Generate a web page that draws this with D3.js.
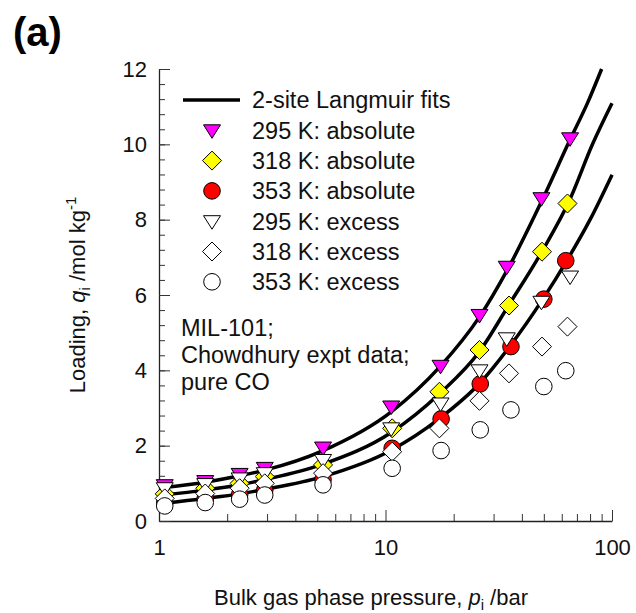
<!DOCTYPE html>
<html>
<head>
<meta charset="utf-8">
<script src="https://cdn.jsdelivr.net/npm/d3@7"></script>
<style>
  body { margin: 0; background: #fff; }
  svg { font-family: "Liberation Sans", Arial, sans-serif; }
</style>
</head>
<body>
<div class="chart"></div>
<script>
// pressures (bar) of the measured points
var p295 = [1.06, 1.6, 2.27, 2.93, 5.3, 10.6, 17.5, 26.0, 34.3, 48.8, 65.3];
var p318 = [1.06, 1.6, 2.27, 2.93, 5.3, 10.7, 17.3, 26.0, 35.1, 49.1, 63.6];
var p353 = [1.06, 1.6, 2.27, 2.93, 5.3, 10.7, 17.6, 26.2, 35.8, 50.0, 62.5];

// loadings (mol/kg)
var abs295 = [0.95, 1.06, 1.25, 1.41, 1.95, 3.04, 4.12, 5.47, 6.75, 8.57, 10.16];
var abs318 = [0.72, 0.87, 1.0, 1.18, 1.49, 2.46, 3.43, 4.54, 5.72, 7.15, 8.43];
var abs353 = [0.48, 0.6, 0.7, 0.82, 1.1, 1.93, 2.71, 3.64, 4.63, 5.89, 6.91];
var exc295 = [0.87, 0.98, 1.13, 1.27, 1.62, 2.46, 3.12, 4.0, 4.85, 5.82, 6.49];
var exc318 = [0.6, 0.73, 0.87, 1.0, 1.27, 1.84, 2.46, 3.19, 3.92, 4.63, 5.16];
var exc353 = [0.4, 0.49, 0.58, 0.69, 0.96, 1.4, 1.87, 2.42, 2.95, 3.57, 3.99];

// 2-site Langmuir fit curves
var fitP295 = [1.03, 1.6, 2.27, 2.93, 5.3, 10.6, 17.4, 26, 34.6, 49, 65, 78, 90];
var fit295 = [0.88, 1.03, 1.2, 1.35, 1.87, 2.9, 4.1, 5.42, 6.68, 8.5, 10.1, 11.1, 12.0];
var fitP318 = [1.03, 1.6, 2.27, 2.93, 5.3, 10.6, 17.4, 26, 35, 49, 65, 82, 100];
var fit318 = [0.69, 0.82, 0.96, 1.1, 1.51, 2.35, 3.39, 4.5, 5.73, 7.15, 8.52, 10.0, 11.09];
var fitP353 = [1.03, 1.6, 2.27, 2.93, 5.3, 10.6, 17.4, 26, 35, 50, 63, 80, 100];
var fit353 = [0.47, 0.6, 0.72, 0.84, 1.18, 1.88, 2.73, 3.65, 4.6, 5.93, 6.9, 8.0, 9.19];

var legendLabels = ["2-site Langmuir fits", "295 K: absolute", "318 K: absolute", "353 K: absolute",
                    "295 K: excess", "318 K: excess", "353 K: excess"];
var noteLines = ["MIL-101;", "Chowdhury expt data;", "pure CO"];
var yTicks = [0, 2, 4, 6, 8, 10, 12];
var xTicks = [1, 10, 100];

var width = 636, height = 613;
var margin = {top: 69, right: 24, bottom: 92, left: 159};

var svg = d3.select(".chart").append("svg")
    .attr("width", width)
    .attr("height", height);

var xScale = d3.scaleLog().domain([1, 100]).range([margin.left, width - margin.right]);
var yScale = d3.scaleLinear().domain([0, 12]).range([height - margin.bottom, margin.top]);

// minor ticks
var xMinor = [];
[1, 10].forEach(function(dec) {
    for (var k = 2; k <= 9; k++) xMinor.push(k * dec);
});
var yMinor = d3.range(0, 12.01, 0.4);

svg.append("g")
    .attr("transform", "translate(0," + yScale(0) + ")")
    .call(d3.axisBottom(xScale).tickValues(xMinor).tickSize(-7).tickSizeOuter(0).tickFormat(""))
    .call(function(g) { g.select(".domain").remove(); });
svg.append("g")
    .attr("transform", "translate(" + xScale(1) + ",0)")
    .call(d3.axisLeft(yScale).tickValues(yMinor).tickSize(-6).tickSizeOuter(0).tickFormat(""))
    .call(function(g) { g.select(".domain").remove(); });

// major axes
var xAxisG = svg.append("g")
    .attr("transform", "translate(0," + yScale(0) + ")")
    .call(d3.axisBottom(xScale).tickValues(xTicks).tickSize(-11).tickSizeOuter(0)
        .tickPadding(18).tickFormat(d3.format("d")));
var yAxisG = svg.append("g")
    .attr("transform", "translate(" + xScale(1) + ",0)")
    .call(d3.axisLeft(yScale).tickValues(yTicks).tickSize(-11).tickSizeOuter(0).tickPadding(12));

svg.selectAll(".tick line").attr("stroke", "#333").attr("stroke-width", 1);
svg.selectAll(".domain").attr("stroke", "#222").attr("stroke-width", 1.3);
svg.selectAll(".tick text")
    .attr("font-family", "'Liberation Sans', Arial, sans-serif")
    .attr("font-size", 22)
    .attr("fill", "#111");

// fit curves
var line = d3.line()
    .x(function(d) { return xScale(d[0]); })
    .y(function(d) { return yScale(d[1]); })
    .curve(d3.curveMonotoneX);

[[fitP295, fit295], [fitP318, fit318], [fitP353, fit353]].forEach(function(f) {
    svg.append("path")
        .datum(d3.zip(f[0], f[1]))
        .attr("d", line)
        .attr("fill", "none")
        .attr("stroke", "#000")
        .attr("stroke-width", 3.5);
});

// marker shapes
var triDown = "M-8.5,-5.5L8.5,-5.5L0,8Z";
var diamond = "M0,-9.5L9.5,0L0,9.5L-9.5,0Z";

function drawSeries(pres, vals, shape, fill) {
    var pts = d3.zip(pres, vals);
    if (shape == "circle") {
        svg.append("g").selectAll("circle")
            .data(pts).enter().append("circle")
            .attr("cx", function(d) { return xScale(d[0]); })
            .attr("cy", function(d) { return yScale(d[1]); })
            .attr("r", 8.3)
            .attr("fill", fill)
            .attr("stroke", "#000")
            .attr("stroke-width", 1);
    } else {
        svg.append("g").selectAll("path")
            .data(pts).enter().append("path")
            .attr("d", shape)
            .attr("transform", function(d) {
                return "translate(" + xScale(d[0]) + "," + yScale(d[1]) + ")";
            })
            .attr("fill", fill)
            .attr("stroke", "#000")
            .attr("stroke-width", 1);
    }
}

drawSeries(p295, abs295, triDown, "#ff00ff");
drawSeries(p318, abs318, diamond, "#ffff00");
drawSeries(p353, abs353, "circle", "#ff0000");
drawSeries(p295, exc295, triDown, "#fff");
drawSeries(p318, exc318, diamond, "#fff");
drawSeries(p353, exc353, "circle", "#fff");

// legend
var legend = svg.append("g");
var rowY = function(i) { return 100 + i * 30.3; };
legend.append("line")
    .attr("x1", 183).attr("x2", 240)
    .attr("y1", rowY(0)).attr("y2", rowY(0))
    .attr("stroke", "#000").attr("stroke-width", 3.5);
var legendMarks = [
    {shape: triDown, fill: "#ff00ff"},
    {shape: diamond, fill: "#ffff00"},
    {shape: "circle", fill: "#ff0000"},
    {shape: triDown, fill: "#fff"},
    {shape: diamond, fill: "#fff"},
    {shape: "circle", fill: "#fff"}
];
legendMarks.forEach(function(m, i) {
    var y = rowY(i + 1);
    if (m.shape == "circle") {
        legend.append("circle").attr("cx", 212).attr("cy", y).attr("r", 8.3)
            .attr("fill", m.fill).attr("stroke", "#000");
    } else {
        legend.append("path").attr("d", m.shape)
            .attr("transform", "translate(212," + y + ")")
            .attr("fill", m.fill).attr("stroke", "#000");
    }
});
legend.selectAll("text")
    .data(legendLabels).enter().append("text")
    .attr("x", 252)
    .attr("y", function(d, i) { return rowY(i); })
    .attr("dy", "0.36em")
    .attr("font-size", 23.5)
    .attr("fill", "#111")
    .text(function(d) { return d; });

// note
svg.append("g").selectAll("text")
    .data(noteLines).enter().append("text")
    .attr("x", 181)
    .attr("y", function(d, i) { return 328 + i * 27; })
    .attr("dy", "0.36em")
    .attr("font-size", 23.5)
    .attr("fill", "#111")
    .text(function(d) { return d; });

// x axis title
var xt = svg.append("text")
    .attr("x", 371)
    .attr("y", 605)
    .attr("text-anchor", "middle")
    .attr("font-size", 22)
    .attr("fill", "#111");
xt.append("tspan").text("Bulk gas phase pressure, ");
xt.append("tspan").attr("font-style", "italic").text("p");
xt.append("tspan").attr("font-size", 15).attr("dy", 5).text("i");
xt.append("tspan").attr("dy", -5).text(" /bar");

// y axis title
var yt = svg.append("text")
    .attr("transform", "translate(85," + 295 + ") rotate(-90)")
    .attr("text-anchor", "middle")
    .attr("font-size", 22)
    .attr("fill", "#111");
yt.append("tspan").text("Loading, ");
yt.append("tspan").attr("font-style", "italic").text("q");
yt.append("tspan").attr("font-size", 15).attr("dy", 5).text("i");
yt.append("tspan").attr("dy", -5).text(" /mol kg");
yt.append("tspan").attr("font-size", 15).attr("dy", -9).text("-1");

// panel label
svg.append("text")
    .attr("x", 13)
    .attr("y", 46)
    .attr("font-size", 40)
    .attr("font-weight", "bold")
    .attr("fill", "#000")
    .text("(a)");
</script>
</body>
</html>
